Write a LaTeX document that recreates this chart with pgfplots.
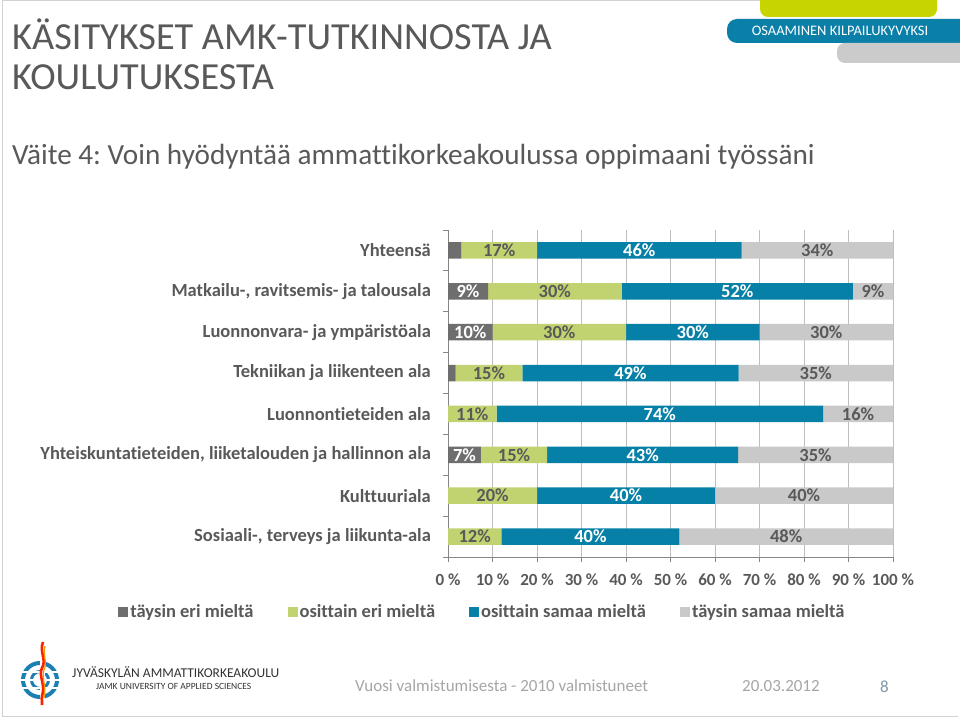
\documentclass[border=0pt]{standalone}
\usepackage{fontspec}
\setmainfont{Carlito}[Ligatures=NoCommon]
\usepackage{pgfplots}
\usepackage{pgfplotstable}
\pgfplotsset{compat=1.18}
\frenchspacing
\definecolor{cdark}{HTML}{6E6E6E}
\definecolor{cgreen}{HTML}{C0D370}
\definecolor{cblue}{HTML}{0780A8}
\definecolor{clight}{HTML}{C9C9C9}
\definecolor{labgray}{HTML}{595959}
\definecolor{gridgray}{HTML}{BEBEBE}
\definecolor{axisgray}{HTML}{868686}
\definecolor{banyellow}{HTML}{C8D400}
\definecolor{banblue}{HTML}{0A7FA8}
\definecolor{bangray}{HTML}{CBCBCB}
\definecolor{footgray}{HTML}{A6A6A6}
\definecolor{logoblue}{HTML}{1C7FB3}
\pgfplotsset{mylegend/.style={legend image code/.code={\fill[##1] (0pt,-5pt) rectangle (10pt,5pt);}}}
\newcommand{\lab}{\bfseries\fontsize{18.5}{21}\selectfont}
\newcommand{\tlab}{\bfseries\fontsize{17}{20}\selectfont}
% rows: 0 Sosiaali, 1 Kulttuuri, 2 Yhteiskunta, 3 Luonnontiet., 4 Tekniikka, 5 Luonnonvara, 6 Matkailu, 7 Yhteensa
\pgfplotstableread{
r v l
0 0 {}
1 0 {}
2 7.4 7\%
3 0 {}
4 1.7 {}
5 10 10\%
6 9 9\%
7 3 {}
}\tdark
\pgfplotstableread{
r v l
0 12 12\%
1 20 20\%
2 14.9 15\%
3 10.9 11\%
4 15 15\%
5 30 30\%
6 30 30\%
7 17 17\%
}\tgreen
\pgfplotstableread{
r v l
0 40 40\%
1 40 40\%
2 42.9 43\%
3 73.4 74\%
4 48.6 49\%
5 30 30\%
6 52 52\%
7 46 46\%
}\tblue
\pgfplotstableread{
r v l
0 48 48\%
1 40 40\%
2 34.8 35\%
3 15.7 16\%
4 34.7 35\%
5 30 30\%
6 9 9\%
7 34 34\%
}\tlight
\begin{document}
\begin{tikzpicture}[x=1pt,y=1pt]
\useasboundingbox (0,0) rectangle (960,718);
\fill[white] (0,0) rectangle (960,718);
\begin{scope}
\clip (0,0) rectangle (960,718);
\fill[banyellow, rounded corners=8pt] (760,701) rectangle (937,730);
\fill[banblue, rounded corners=10pt] (727,675) rectangle (975,699);
\fill[bangray, rounded corners=8pt] (837,655) rectangle (975,675);
\end{scope}
\node[text=white, font=\fontsize{14.5}{16}\selectfont] at (840,687) {OSAAMINEN KILPAILUKYVYKSI};
\draw[gray!35, line width=0.8pt] (2.5,1.5) -- (2.5,717.5) -- (760,717.5);
\draw[gray!35, line width=0.8pt] (2.5,1.5) -- (958,1.5);
% titles
\node[anchor=base west, text=labgray, font=\fontsize{38.3}{40}\selectfont, inner sep=0pt] at (12,668) {KÄSITYKSET AMK-TUTKINNOSTA JA};
\node[anchor=base west, text=labgray, font=\fontsize{38.3}{40}\selectfont, inner sep=0pt] at (12,628) {KOULUTUKSESTA};
\node[anchor=base west, text=labgray, font=\fontsize{29.2}{30}\selectfont, inner sep=0pt] at (12,553) {Väite 4: Voin hyödyntää ammattikorkeakoulussa oppimaani työssäni};
% chart
\begin{axis}[
  at={(448pt,161pt)}, anchor=south west,
  scale only axis, width=445pt, height=327pt,
  xbar stacked, bar width=16.5pt,
  xmin=0, xmax=100, ymin=-0.5, ymax=7.5,
  enlargelimits=false, clip=false,
  axis x line*=bottom, axis y line*=left,
  axis line style={color=axisgray, line width=0.8pt},
  tick style={color=axisgray, line width=0.8pt},
  tick align=outside, major tick length=5pt,
  xtick={0,10,...,100},
  xticklabels={0~\%,10~\%,20~\%,30~\%,40~\%,50~\%,60~\%,70~\%,80~\%,90~\%,100~\%},
  xmajorgrids, major grid style={color=gridgray, line width=0.8pt},
  xticklabel style={font=\tlab, text=labgray, inner sep=0pt, yshift=-12pt},
  ytick={-0.5,0.5,...,6.5},
  yticklabels={{Sosiaali-, terveys ja liikunta-ala},Kulttuuriala,{Yhteiskuntatieteiden, liiketalouden ja hallinnon ala},Luonnontieteiden ala,Tekniikan ja liikenteen ala,Luonnonvara- ja ympäristöala,{Matkailu-, ravitsemis- ja talousala},Yhteensä},
  yticklabel style={font=\lab, text=labgray, inner sep=0pt, yshift=20.44pt, xshift=-12pt},
  extra y ticks={7.5}, extra y tick labels={},
  extra y tick style={grid=none},
  point meta=explicit symbolic,
  nodes near coords,
  every node near coord/.append style={anchor=center, font=\lab, inner sep=0pt},
  legend style={at={(0.0775,-0.168)}, anchor=center, draw=none, fill=none, font=\lab, text=labgray, legend columns=4,
    nodes={inner sep=2pt},
    /tikz/every even column/.append style={column sep=32pt}},
  legend cell align=left,
]
\addplot+[mylegend, fill=cdark, draw=none, every node near coord/.append style={text=white}] table[x=v, y=r, meta=l] {\tdark};
\addplot+[mylegend, fill=cgreen, draw=none, every node near coord/.append style={text=labgray}] table[x=v, y=r, meta=l] {\tgreen};
\addplot+[mylegend, fill=cblue, draw=none, every node near coord/.append style={text=white}] table[x=v, y=r, meta=l] {\tblue};
\addplot+[mylegend, fill=clight, draw=none, every node near coord/.append style={text=labgray}] table[x=v, y=r, meta=l] {\tlight};
\legend{täysin eri mieltä, osittain eri mieltä, osittain samaa mieltä, täysin samaa mieltä}
\end{axis}
% footer logo
\draw[logoblue, line width=4pt] (40,38) circle (17);
\draw[logoblue, line width=3pt] (40,38) circle (8.5);
\foreach \yy in {30,38,46} {\draw[white, line width=1.2pt] (18,\yy) -- (62,\yy);}
\draw[white, line width=5pt] (42,14) -- (42,70);
\draw[red!75!orange, line width=2.6pt] (43,76) .. controls (39,66) and (47,58) .. (42,50) .. controls (38,42) and (46,34) .. (42,22) .. controls (41,18) and (43,16) .. (42,13);
\draw[orange!80!yellow, line width=1.2pt] (45,72) .. controls (42,64) and (48,56) .. (44,48) .. controls (41,40) and (47,32) .. (44,20);
\node[anchor=base west, inner sep=0pt, text=black!80, font=\fontsize{13.5}{15}\selectfont] at (72,41) {JYVÄSKYLÄN AMMATTIKORKEAKOULU};
\node[anchor=base west, inner sep=0pt, text=black!80, font=\fontsize{9.5}{11}\selectfont] at (96,29) {JAMK UNIVERSITY OF APPLIED SCIENCES};
\node[anchor=base west, inner sep=0pt, text=footgray, font=\fontsize{17}{20}\selectfont] at (355,27) {Vuosi valmistumisesta - 2010 valmistuneet};
\node[anchor=base west, inner sep=0pt, text=footgray, font=\fontsize{17}{20}\selectfont] at (742,27) {20.03.2012};
\node[anchor=base west, inner sep=0pt, text=footgray!70!logoblue, font=\fontsize{17}{20}\selectfont] at (880,26) {8};
\end{tikzpicture}
\end{document}
